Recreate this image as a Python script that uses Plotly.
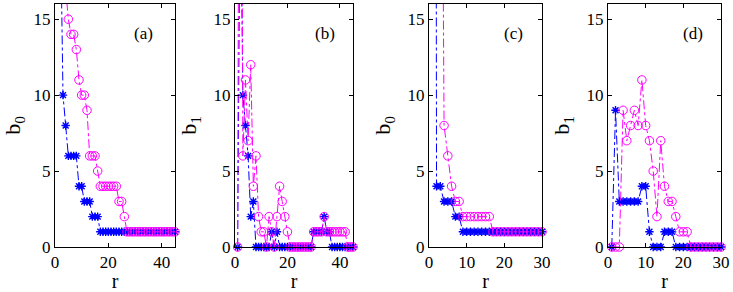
import plotly.graph_objects as go

# ---------------- data ----------------
r_ab = list(range(1, 46))
r_cd = list(range(1, 31))

# panel (a): b0
a_blue = [40, 22, 10, 8, 6, 6, 6, 6, 4, 4, 3, 3, 3, 2, 2, 2] + [1] * 29
a_mag = [60, 40, 25, 17, 15, 14, 14, 13, 11, 10, 10, 9, 6, 6, 6, 5,
         4, 4, 4, 4, 4, 4, 4, 3, 3, 2] + [1] * 19

# panel (b): b1
b_blue = [0, 25, 10, 8, 6, 2, 3, 0, 0, 0, 0, 0, 0, 1, 0, 1] + [0] * 13 + \
         [1, 1, 1, 1, 2, 1, 1] + [0] * 9
b_mag = [0, 60, 6, 11, 7, 12, 4, 6, 2, 1, 1, 0, 2, 1, 0, 2, 4, 3, 2, 1] + [0] * 9 + \
        [1, 1, 1, 1, 2, 1, 1, 1, 1, 1, 1, 1, 1] + [0] * 3

# panel (c): b0
c_blue = [200, 4, 4, 3, 3, 3, 2, 2] + [1] * 22
c_mag = [400, 300, 50, 8, 6, 4, 3, 3] + [2] * 8 + [1] * 14

# panel (d): b1
d_blue = [0, 9, 3, 3, 3, 3, 3, 3, 4, 4, 1, 0, 0, 0, 1, 1, 1] + [0] * 13
d_mag = [0, 0, 0, 9, 7, 8, 9, 8, 11, 8, 7, 5, 2, 7, 4, 3, 3, 2, 1, 1, 1] + [0] * 9

panels = [
    (r_ab, a_blue, a_mag, "b<sub>0</sub>", "(a)", [0, 45], [0, 20, 40]),
    (r_ab, b_blue, b_mag, "b<sub>1</sub>", "(b)", [0, 45], [0, 20, 40]),
    (r_cd, c_blue, c_mag, "b<sub>0</sub>", "(c)", [0, 30], [0, 10, 20, 30]),
    (r_cd, d_blue, d_mag, "b<sub>1</sub>", "(d)", [0, 30], [0, 10, 20, 30]),
]
y_ticks = [0, 5, 10, 15]

# ---------------- layout geometry ----------------
W, H = 733, 292
x_px = [(55, 175), (235, 353), (429, 542), (608, 721)]
y_dom = [45 / H, 288 / H]
label_px = [(143, 33), (325, 33), (513, 33), (693, 33)]

BLUE = "rgb(0,0,255)"
MAG = "rgb(255,0,255)"
FONT = "Liberation Serif"

fig = go.Figure()
layout = dict(
    width=W, height=H,
    margin=dict(l=0, r=0, t=0, b=0),
    paper_bgcolor="white", plot_bgcolor="white",
    showlegend=False,
    font=dict(family=FONT, size=17, color="black"),
    annotations=[],
)

for i, (rr, blue, mag, ylab, lab, xr, xt) in enumerate(panels):
    k = "" if i == 0 else str(i + 1)
    xa, ya = "x" + k, "y" + k
    fig.add_trace(go.Scatter(
        x=rr, y=blue, xaxis=xa, yaxis=ya, mode="lines+markers",
        line=dict(color=BLUE, width=1, dash="dashdot"),
        marker=dict(symbol="asterisk-open", size=7, color=BLUE,
                    line=dict(color=BLUE, width=1.4)),
        cliponaxis=False,
    ))
    fig.add_trace(go.Scatter(
        x=rr, y=mag, xaxis=xa, yaxis=ya, mode="lines+markers",
        line=dict(color=MAG, width=1, dash="dashdot"),
        marker=dict(symbol="circle-open", size=8.5, color=MAG,
                    line=dict(color=MAG, width=1)),
        cliponaxis=False,
    ))
    x0, x1 = x_px[i]
    layout["xaxis" + k] = dict(
        domain=[x0 / W, x1 / W], range=xr, tickvals=xt,
        anchor=ya, showline=True, linecolor="black", linewidth=1,
        mirror="ticks", ticks="inside", ticklen=4, tickcolor="black",
        showgrid=False, zeroline=False,
        tickfont=dict(family=FONT, size=17),
        title=dict(text="r", font=dict(family=FONT, size=20), standoff=3),
        automargin=False,
    )
    layout["yaxis" + k] = dict(
        domain=y_dom, range=[0, 16], tickvals=y_ticks,
        anchor=xa, showline=True, linecolor="black", linewidth=1,
        mirror="ticks", ticks="inside", ticklen=4, tickcolor="black",
        showgrid=False, zeroline=False,
        tickfont=dict(family=FONT, size=17),
        title=dict(text=ylab, font=dict(family=FONT, size=22), standoff=10),
        automargin=False,
    )
    lx, ly = label_px[i]
    layout["annotations"].append(dict(
        x=lx / W, y=1 - ly / H, xref="paper", yref="paper",
        text=lab, showarrow=False, xanchor="center", yanchor="middle",
        font=dict(family=FONT, size=17, color="black"),
    ))

fig.update_layout(**layout)
fig.write_html("out.html", config={"displayModeBar": False},
               post_script="document.body.style.margin='0';document.body.style.padding='0';")
